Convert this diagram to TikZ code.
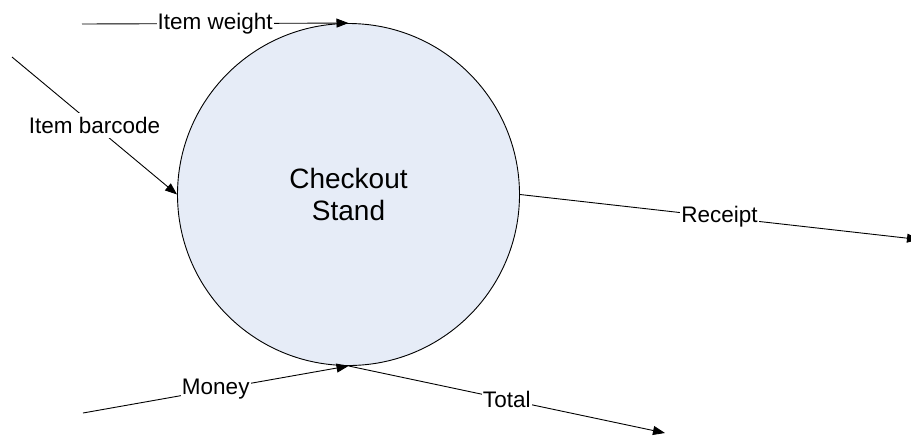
\documentclass[tikz,border=0pt]{standalone}
\usepackage{fontspec}
\setmainfont{Liberation Sans}
\usetikzlibrary{arrows.meta}
\definecolor{procfill}{RGB}{230,236,247}
\tikzset{
  flow/.style={draw=black, line width=0.9pt,
    -{Triangle[length=12pt,width=9pt]}},
  flowlabel/.style={fill=white, inner xsep=1pt, inner ysep=4pt, text=black,
    font=\fontsize{22.5}{26}\selectfont},
  process/.style={circle, draw=black, line width=0.9pt, fill=procfill,
    minimum size=342pt, inner sep=0pt, align=center,
    font=\fontsize{28}{32}\selectfont}
}
\begin{document}
\begin{tikzpicture}[x=1pt,y=-1pt]
  \useasboundingbox (0,0) rectangle (911,437);

  % the process bubble
  \node[process] (stand) at (348.5,194.5) {Checkout\\Stand};

  % free ends of the data flows
  \coordinate (wsrc) at (82,24);
  \coordinate (bsrc) at (12,57);
  \coordinate (msrc) at (83,413);
  \coordinate (tdst) at (665,433);
  \coordinate (rdst) at (919,239.5);

  % incoming flows
  \draw[flow] (wsrc) -- (stand.north)
    node[flowlabel, pos=0.5] {Item weight};
  \draw[flow] (bsrc) -- (stand.west)
    node[flowlabel, pos=0.5] {Item barcode};
  \draw[flow] (msrc) -- (stand.south)
    node[flowlabel, pos=0.5] {Money};

  % outgoing flows
  \draw[flow] (stand.south) -- (tdst)
    node[flowlabel, pos=0.5] {Total};
  \draw[flow] (stand.east) -- (rdst)
    node[flowlabel, pos=0.5] {Receipt};
\end{tikzpicture}
\end{document}
